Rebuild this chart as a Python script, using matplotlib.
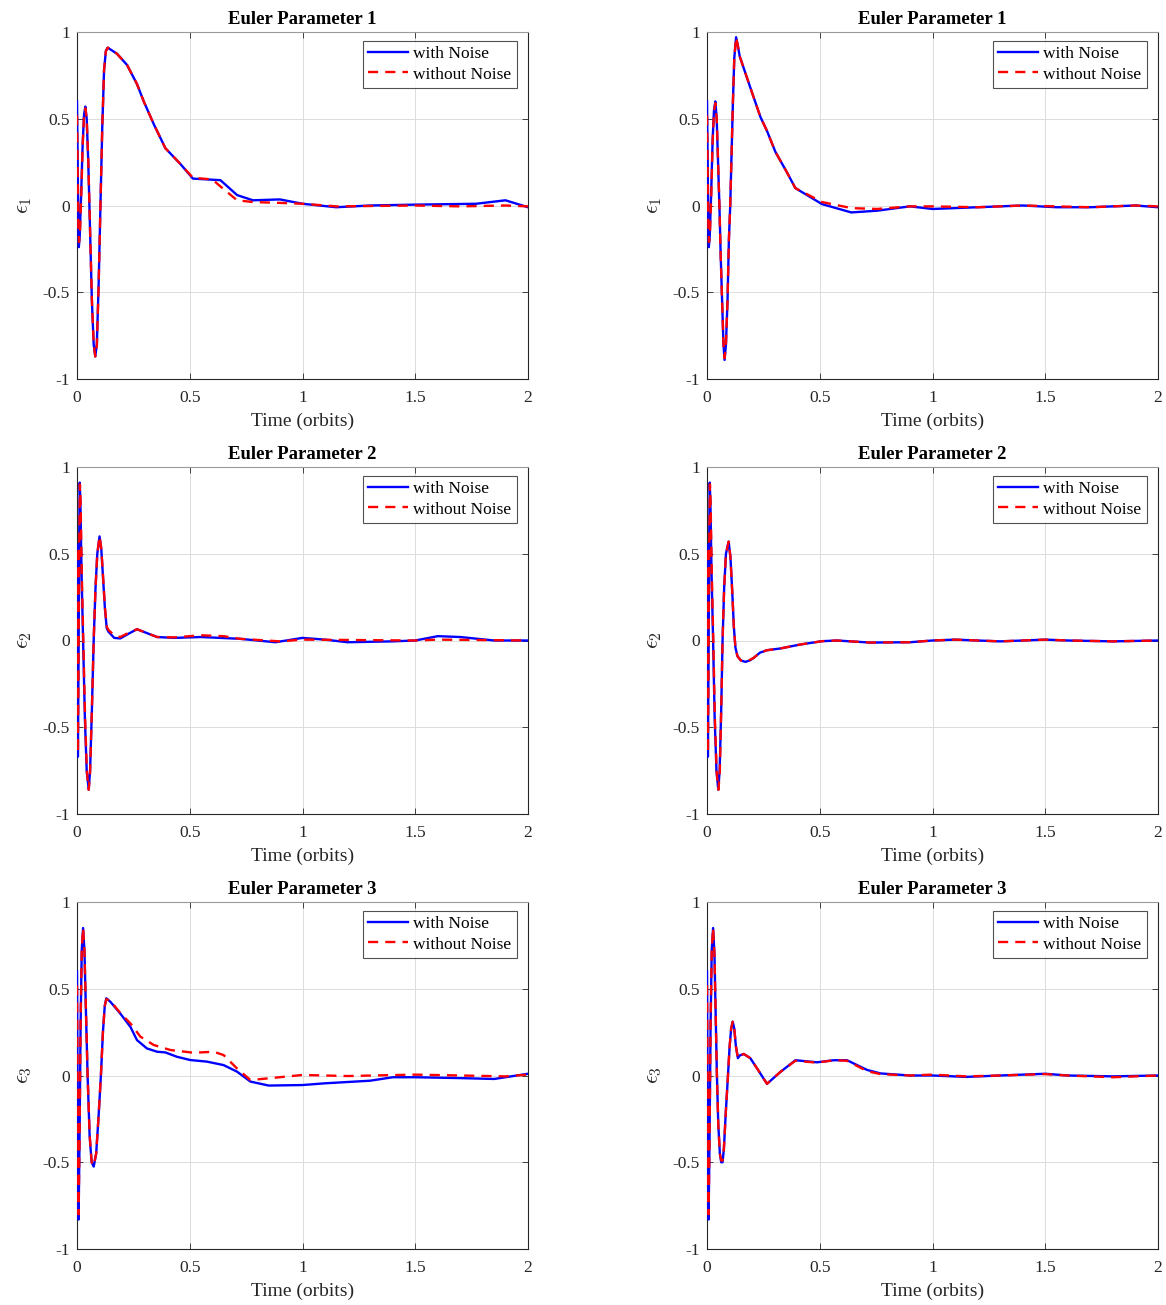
import matplotlib
matplotlib.use("Agg")
import matplotlib.pyplot as plt

plt.rcParams['font.family'] = ['Liberation Serif', 'DejaVu Serif']
plt.rcParams['mathtext.fontset'] = 'cm'
plt.rcParams['axes.unicode_minus'] = False

titles = ["Euler Parameter 1", "Euler Parameter 2", "Euler Parameter 3"]
ylabels = [r"$\epsilon_1$", r"$\epsilon_2$", r"$\epsilon_3$"]
legend_labels = ["with Noise", "without Noise"]
xticks = [0, 0.5, 1, 1.5, 2]
xticklabels = ["0", "0.5", "1", "1.5", "2"]
yticks = [-1, -0.5, 0, 0.5, 1]
yticklabels = ["-1", "-0.5", "0", "0.5", "1"]

# ---- Euler parameter 1, left column ----
t_e1L_n = [0, 0.003, 0.006, 0.008, 0.012, 0.018, 0.025, 0.031, 0.037, 0.043, 0.050, 0.058, 0.066, 0.074, 0.081,
           0.088, 0.096, 0.104, 0.112, 0.120, 0.128, 0.136, 0.177, 0.222, 0.266, 0.296, 0.34, 0.392, 0.458, 0.514,
           0.636, 0.71, 0.78, 0.9, 1.0, 1.15, 1.3, 1.5, 1.77, 1.9, 2.0]
v_e1L_n = [0.60, 0.25, -0.15, -0.24, -0.18, 0.05, 0.35, 0.52, 0.57, 0.50, 0.25, -0.15, -0.55, -0.80, -0.87,
           -0.80, -0.45, 0.0, 0.45, 0.78, 0.89, 0.91, 0.875, 0.81, 0.70, 0.60, 0.47, 0.33, 0.24, 0.155,
           0.146, 0.06, 0.03, 0.035, 0.01, -0.01, 0.0, 0.005, 0.01, 0.03, -0.01]
t_e1L_w = [0, 0.003, 0.006, 0.009, 0.013, 0.019, 0.025, 0.031, 0.037, 0.043, 0.050, 0.058, 0.066, 0.074, 0.081,
           0.088, 0.096, 0.104, 0.112, 0.120, 0.128, 0.136, 0.177, 0.222, 0.266, 0.296, 0.34, 0.392, 0.458, 0.514,
           0.60, 0.636, 0.71, 0.78, 0.9, 1.0, 1.15, 1.5, 1.7, 1.9, 2.0]
v_e1L_w = [0.52, 0.20, -0.12, -0.21, -0.16, 0.06, 0.34, 0.51, 0.56, 0.50, 0.26, -0.14, -0.54, -0.80, -0.87,
           -0.81, -0.46, 0.0, 0.45, 0.78, 0.89, 0.91, 0.875, 0.81, 0.70, 0.60, 0.47, 0.33, 0.24, 0.16,
           0.15, 0.11, 0.03, 0.02, 0.015, 0.01, -0.005, 0.0, -0.005, 0.0, -0.005]

# ---- Euler parameter 1, right column ----
t_e1R_n = [0, 0.003, 0.006, 0.008, 0.012, 0.018, 0.025, 0.031, 0.037, 0.043, 0.049, 0.055, 0.061, 0.067, 0.073,
           0.078, 0.084, 0.091, 0.097, 0.103, 0.109, 0.115, 0.121, 0.129, 0.137, 0.145, 0.192, 0.237, 0.266, 0.303,
           0.355, 0.392, 0.51, 0.64, 0.754, 0.9, 1.0, 1.2, 1.4, 1.55, 1.7, 1.9, 2.0]
v_e1R_n = [0.60, 0.25, -0.15, -0.24, -0.18, 0.05, 0.38, 0.55, 0.60, 0.50, 0.25, 0.0, -0.30, -0.55, -0.80,
           -0.89, -0.80, -0.55, -0.20, 0.0, 0.30, 0.60, 0.85, 0.97, 0.92, 0.86, 0.68, 0.51, 0.43, 0.31,
           0.19, 0.10, 0.008, -0.04, -0.03, -0.005, -0.02, -0.01, 0.0, -0.01, -0.01, 0.0, -0.01]
t_e1R_w = [0, 0.003, 0.006, 0.009, 0.013, 0.019, 0.025, 0.031, 0.037, 0.043, 0.049, 0.055, 0.061, 0.067, 0.073,
           0.078, 0.084, 0.091, 0.097, 0.103, 0.109, 0.115, 0.121, 0.129, 0.137, 0.145, 0.192, 0.237, 0.266, 0.303,
           0.355, 0.392, 0.51, 0.64, 0.754, 0.9, 1.0, 1.2, 1.4, 1.55, 1.7, 1.9, 2.0]
v_e1R_w = [0.52, 0.20, -0.12, -0.21, -0.16, 0.06, 0.37, 0.54, 0.59, 0.50, 0.26, 0.0, -0.30, -0.55, -0.80,
           -0.88, -0.80, -0.55, -0.20, 0.0, 0.30, 0.60, 0.85, 0.97, 0.92, 0.86, 0.68, 0.51, 0.43, 0.31,
           0.19, 0.10, 0.02, -0.015, -0.02, -0.005, -0.005, -0.01, 0.0, -0.005, -0.01, 0.0, -0.005]

# ---- Euler parameter 2, left column ----
t_e2L_n = [0, 0.002, 0.004, 0.007, 0.010, 0.012, 0.015, 0.020, 0.027, 0.035, 0.043, 0.052, 0.058, 0.066, 0.074,
           0.082, 0.090, 0.100, 0.108, 0.116, 0.124, 0.132, 0.140, 0.165, 0.192, 0.23, 0.266, 0.355, 0.43, 0.55,
           0.72, 0.88, 1.0, 1.1, 1.2, 1.4, 1.5, 1.6, 1.7, 1.85, 2.0]
v_e2L_n = [0.55, 0.0, -0.67, -0.10, 0.60, 0.91, 0.80, 0.40, 0.0, -0.45, -0.75, -0.86, -0.75, -0.40, 0.0,
           0.30, 0.50, 0.60, 0.52, 0.35, 0.18, 0.07, 0.05, 0.015, 0.012, 0.04, 0.065, 0.02, 0.015, 0.02,
           0.01, -0.01, 0.015, 0.005, -0.01, -0.005, 0.0, 0.025, 0.02, 0.0, 0.0]
t_e2L_w = [0, 0.002, 0.004, 0.007, 0.010, 0.013, 0.016, 0.021, 0.028, 0.036, 0.044, 0.052, 0.058, 0.066, 0.074,
           0.082, 0.090, 0.100, 0.108, 0.116, 0.124, 0.132, 0.140, 0.165, 0.192, 0.23, 0.266, 0.355, 0.43, 0.55,
           0.65, 0.72, 0.9, 1.0, 1.5, 1.6, 2.0]
v_e2L_w = [0.52, 0.0, -0.65, -0.10, 0.58, 0.90, 0.80, 0.40, 0.0, -0.45, -0.76, -0.86, -0.76, -0.40, 0.0,
           0.30, 0.50, 0.60, 0.53, 0.36, 0.19, 0.08, 0.06, 0.03, 0.02, 0.045, 0.065, 0.02, 0.018, 0.03,
           0.025, 0.01, -0.005, 0.005, 0.0, 0.005, 0.0]

# ---- Euler parameter 2, right column ----
t_e2R_n = [0, 0.002, 0.004, 0.007, 0.010, 0.012, 0.015, 0.020, 0.027, 0.034, 0.042, 0.050, 0.056, 0.063, 0.069,
           0.076, 0.084, 0.096, 0.104, 0.112, 0.119, 0.126, 0.135, 0.150, 0.17, 0.19, 0.207, 0.235, 0.266, 0.325,
           0.414, 0.51, 0.576, 0.724, 0.9, 1.0, 1.1, 1.3, 1.5, 1.6, 1.8, 2.0]
v_e2R_n = [0.55, 0.0, -0.67, -0.10, 0.60, 0.91, 0.80, 0.40, 0.0, -0.45, -0.75, -0.86, -0.75, -0.40, 0.0,
           0.30, 0.50, 0.57, 0.48, 0.28, 0.08, -0.04, -0.09, -0.115, -0.123, -0.115, -0.10, -0.07, -0.056, -0.046,
           -0.023, -0.004, 0.0, -0.012, -0.01, 0.0, 0.005, -0.005, 0.005, 0.0, -0.005, 0.0]
t_e2R_w = [0, 0.002, 0.004, 0.007, 0.010, 0.013, 0.016, 0.021, 0.028, 0.035, 0.043, 0.051, 0.057, 0.063, 0.069,
           0.076, 0.084, 0.096, 0.104, 0.112, 0.119, 0.126, 0.135, 0.150, 0.17, 0.19, 0.207, 0.235, 0.266, 0.325,
           0.414, 0.51, 0.576, 0.724, 0.9, 1.0, 1.1, 1.3, 1.5, 1.6, 1.8, 2.0]
v_e2R_w = [0.52, 0.0, -0.65, -0.10, 0.58, 0.90, 0.80, 0.40, 0.0, -0.45, -0.76, -0.86, -0.75, -0.40, 0.0,
           0.30, 0.50, 0.57, 0.48, 0.28, 0.08, -0.04, -0.09, -0.115, -0.12, -0.112, -0.10, -0.07, -0.056, -0.046,
           -0.023, -0.004, 0.0, -0.012, -0.01, 0.0, 0.005, -0.005, 0.005, 0.0, -0.005, 0.0]

# ---- Euler parameter 3, left column ----
t_e3L_n = [0, 0.003, 0.007, 0.011, 0.016, 0.021, 0.027, 0.033, 0.040, 0.047, 0.056, 0.065, 0.074, 0.085, 0.095,
           0.106, 0.115, 0.123, 0.13, 0.148, 0.192, 0.237, 0.266, 0.31, 0.355, 0.392, 0.443, 0.503,
           0.576, 0.65, 0.71, 0.769, 0.85, 1.0, 1.1, 1.3, 1.4, 1.5, 1.7, 1.85, 2.0]
v_e3L_n = [0.60, -0.20, -0.83, -0.40, 0.30, 0.72, 0.85, 0.72, 0.35, 0.0, -0.35, -0.50, -0.525, -0.45, -0.25,
           0.0, 0.25, 0.40, 0.445, 0.425, 0.357, 0.28, 0.204, 0.156, 0.137, 0.133, 0.108, 0.089,
           0.08, 0.06, 0.022, -0.035, -0.058, -0.055, -0.045, -0.03, -0.01, -0.01, -0.015, -0.02, 0.01]
t_e3L_w = [0, 0.003, 0.007, 0.011, 0.016, 0.021, 0.027, 0.033, 0.040, 0.047, 0.056, 0.065, 0.074, 0.085, 0.095,
           0.106, 0.115, 0.123, 0.13, 0.148, 0.192, 0.237, 0.281, 0.34, 0.414, 0.517, 0.606, 0.65,
           0.71, 0.769, 0.82, 1.0, 1.2, 1.5, 1.7, 1.9, 2.0]
v_e3L_w = [0.52, -0.20, -0.80, -0.40, 0.30, 0.72, 0.85, 0.72, 0.36, 0.0, -0.34, -0.50, -0.52, -0.45, -0.25,
           0.0, 0.25, 0.40, 0.44, 0.43, 0.36, 0.30, 0.224, 0.176, 0.147, 0.131, 0.137, 0.118,
           0.04, -0.026, -0.02, 0.003, -0.003, 0.005, 0.0, -0.005, 0.005]

# ---- Euler parameter 3, right column ----
t_e3R_n = [0, 0.003, 0.007, 0.011, 0.016, 0.021, 0.027, 0.033, 0.038, 0.044, 0.050, 0.057, 0.063, 0.069, 0.075,
           0.083, 0.093, 0.100, 0.107, 0.114, 0.121, 0.128, 0.137, 0.145, 0.163, 0.192, 0.23, 0.266, 0.325, 0.392,
           0.488, 0.562, 0.621, 0.71, 0.769, 0.9, 1.0, 1.15, 1.3, 1.5, 1.6, 1.8, 2.0]
v_e3R_n = [0.60, -0.20, -0.83, -0.40, 0.30, 0.72, 0.85, 0.70, 0.38, 0.0, -0.28, -0.45, -0.50, -0.50, -0.42,
           -0.22, 0.0, 0.16, 0.27, 0.31, 0.27, 0.17, 0.10, 0.115, 0.124, 0.10, 0.025, -0.048, 0.02, 0.088,
           0.076, 0.088, 0.088, 0.032, 0.012, 0.0, 0.0, -0.008, 0.0, 0.01, 0.0, -0.005, 0.0]
t_e3R_w = [0, 0.003, 0.007, 0.011, 0.016, 0.021, 0.027, 0.033, 0.038, 0.044, 0.050, 0.057, 0.063, 0.069, 0.075,
           0.083, 0.093, 0.100, 0.107, 0.114, 0.121, 0.128, 0.137, 0.145, 0.163, 0.192, 0.23, 0.266, 0.325, 0.392,
           0.488, 0.562, 0.621, 0.71, 0.769, 0.9, 1.0, 1.15, 1.3, 1.5, 1.6, 1.8, 2.0]
v_e3R_w = [0.52, -0.20, -0.80, -0.40, 0.30, 0.72, 0.85, 0.70, 0.38, 0.0, -0.28, -0.45, -0.49, -0.49, -0.42,
           -0.22, 0.0, 0.16, 0.27, 0.31, 0.27, 0.17, 0.10, 0.115, 0.124, 0.10, 0.025, -0.048, 0.02, 0.085,
           0.074, 0.088, 0.085, 0.025, 0.008, 0.0, 0.005, -0.005, 0.0, 0.008, 0.0, -0.01, 0.0]

panels = [
    [(t_e1L_n, v_e1L_n, t_e1L_w, v_e1L_w), (t_e1R_n, v_e1R_n, t_e1R_w, v_e1R_w)],
    [(t_e2L_n, v_e2L_n, t_e2L_w, v_e2L_w), (t_e2R_n, v_e2R_n, t_e2R_w, v_e2R_w)],
    [(t_e3L_n, v_e3L_n, t_e3L_w, v_e3L_w), (t_e3R_n, v_e3R_n, t_e3R_w, v_e3R_w)],
]

W, H = 1166, 1305
fig = plt.figure(figsize=(W / 100, H / 100), dpi=100)
lefts = [77 / W, 707 / W]
bottoms = [1 - 379 / H, 1 - 814 / H, 1 - 1249 / H]
aw, ah = 451 / W, 347 / H

for r in range(3):
    for c in range(2):
        ax = fig.add_axes([lefts[c], bottoms[r], aw, ah])
        tn, vn, tw, vw = panels[r][c]
        ax.plot(tn, vn, color='#0000ff', lw=1.7, label=legend_labels[0], zorder=3,
                solid_joinstyle='round')
        ax.plot(tw, vw, color='#ff0000', lw=1.7, ls=(0, (4.3, 3.0)), label=legend_labels[1], zorder=4)
        ax.set_xlim(0, 2)
        ax.set_ylim(-1, 1)
        ax.set_xticks(xticks)
        ax.set_xticklabels(xticklabels)
        ax.set_yticks(yticks)
        ax.set_yticklabels(yticklabels)
        ax.tick_params(axis='both', direction='in', length=4, width=0.6, labelsize=12.5,
                       colors='#262626', top=True, right=True)
        ax.tick_params(axis='x', pad=8)
        ax.tick_params(axis='y', pad=5)
        ax.grid(True, color='#dcdcdc', lw=0.7)
        ax.set_axisbelow(True)
        for s in ['left', 'bottom', 'right']:
            ax.spines[s].set_color('#262626')
            ax.spines[s].set_linewidth(0.8)
        ax.spines['top'].set_color('#9a9a9a')
        ax.spines['top'].set_linewidth(0.8)
        ax.set_title(titles[r], fontsize=13.5, fontweight='bold', pad=6)
        ax.set_xlabel("Time (orbits)", fontsize=14, color='#262626', labelpad=5)
        ax.set_ylabel(ylabels[r], fontsize=16, color='#262626', labelpad=6)
        leg = ax.legend(loc='upper right', bbox_to_anchor=(0.975, 0.975), fontsize=12.5,
                        frameon=True, fancybox=False, borderpad=0.3, handlelength=2.3,
                        handletextpad=0.3, labelspacing=0.25, borderaxespad=0)
        leg.get_frame().set_edgecolor('#262626')
        leg.get_frame().set_linewidth(0.8)

fig.savefig("out.png", dpi=100, facecolor='white')
